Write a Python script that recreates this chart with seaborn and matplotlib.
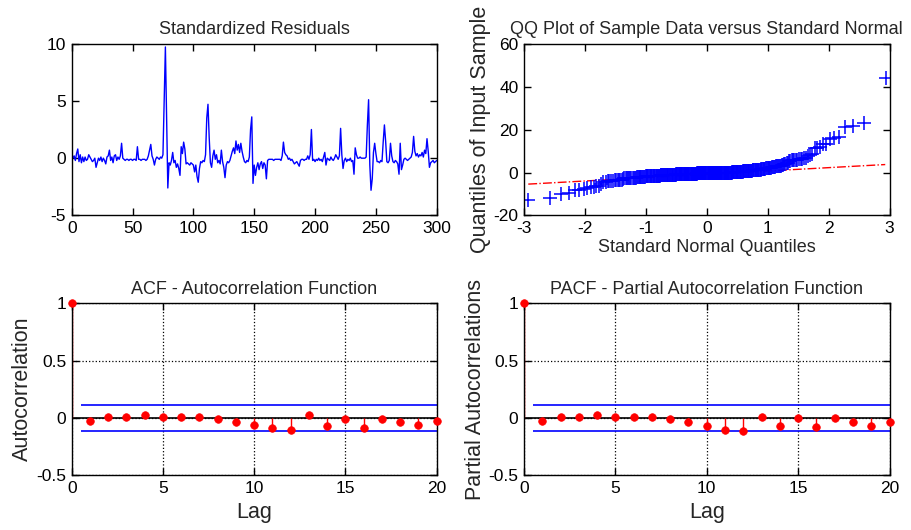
import math
import numpy as np
import pandas as pd
import seaborn as sns
import matplotlib
matplotlib.use("Agg")
import matplotlib.pyplot as plt

residuals = [
    0.0, 0.2, -0.2, 0.4, 0.8, -0.3, 0.3, -0.4, 0.1, -0.3,
    0.1, -0.2, -0.1, 0.3, 0.1, -0.1, -0.3, -0.2, 0.0, -0.8,
    -0.4, 0.0, -0.2, 0.1, -0.3, 0.0, -0.2, -0.5, 0.1, 0.2,
    0.7, -0.2, 0.1, -0.4, 0.2, 0.3, -0.2, 0.1, -0.1, 0.2,
    1.3, 0.0, -0.1, -0.2, -0.1, -0.1, -0.2, -0.1, -0.1, -0.2,
    -0.1, -0.1, -0.2, 1.0, -0.1, -0.1, -0.2, -0.1, -0.1, -0.1,
    -0.2, -0.1, 0.2, 0.7, 1.2, 0.2, -0.1, -0.6, -0.1, 0.1,
    0.0, -0.1, 0.1, 0.0, 0.3, 4.8, 9.7, 3.4, -2.6, -0.4,
    -0.6, -0.2, 0.5, -0.4, -0.2, -0.8, -0.5, -0.9, -1.5, 1.0,
    0.4, 1.4, 0.8, -0.5, -0.4, -0.5, -0.6, -0.4, -0.5, -0.6,
    -1.2, -0.6, -1.6, -2.1, -0.9, -0.3, -0.4, -0.2, -0.3, 0.3,
    3.5, 4.7, 1.8, -0.4, -0.8, 0.2, 0.7, -0.1, 0.3, -0.4,
    -0.2, -0.5, 0.7, -0.3, -0.8, -1.7, -0.6, -0.3, -0.4, -0.2,
    0.2, 0.6, 0.9, 0.4, 1.5, 0.7, 1.2, 0.5, 1.3, 0.6,
    0.1, -0.3, -0.4, -0.2, -0.3, 0.1, 2.5, 3.6, -2.2, -0.6,
    -1.5, -0.8, -0.4, -1.0, -0.5, -0.3, -0.9, -0.4, -0.6, -1.8,
    -0.2, -0.1, -0.1, -0.1, -0.1, -0.2, -0.1, -0.1, -0.1, -0.1,
    -0.1, -0.2, 0.2, 1.4, 0.5, 0.3, 0.2, -0.1, 0.0, -0.2,
    -0.1, -0.3, -0.5, -0.4, -0.3, -0.5, -0.7, -0.2, -0.1, -0.1,
    -0.2, -0.1, -0.1, 0.2, -0.1, 0.3, 2.5, -0.2, -0.1, -0.3,
    -0.1, -0.2, 0.0, -0.2, -0.1, -0.3, 0.1, 0.5, -0.6, 0.0,
    -0.1, -0.2, 0.1, -0.1, -0.2, 0.0, 0.3, 0.1, -0.1, 0.2,
    2.6, 0.3, -0.9, -0.2, 0.0, -0.3, -0.1, -0.2, 0.0, -0.3,
    -0.2, -1.4, 0.9, 0.3, 0.0, 0.0, 0.1, 0.0, 0.0, 0.0,
    0.0, 0.1, 2.9, 5.1, -0.6, -2.8, -1.8, 0.5, 1.3, 0.4,
    -0.3, -0.3, -0.4, -0.2, -0.3, 1.4, 2.9, 1.5, -0.3, -0.4,
    -0.2, 1.3, 0.2, -0.3, -0.4, -0.2, -0.3, -0.5, -1.4, 1.3,
    -1.0, -0.6, -0.1, 0.0, -0.1, -0.2, -0.1, 0.0, 0.1, 0.5,
    1.9, 0.6, 0.2, 0.4, 0.1, 0.3, 0.2, 0.5, 0.1, 0.7,
    0.4, 1.7, 0.6, -0.8, -0.4, -0.3, -0.2, -0.4, -0.3, -0.2,
]

# raw residuals in the QQ panel are the standardized ones times this scale
qq_scale = 4.55
qq_line_x = [-2.93, 2.93]
qq_line_y = [-5.4, 3.7]

lags = list(range(21))
acf = [1.0, -0.03, 0.01, 0.01, 0.02, 0.01, 0.01, 0.01, -0.015, -0.04, -0.06,
       -0.09, -0.105, 0.02, -0.07, -0.015, -0.09, -0.015, -0.04, -0.06, -0.03]
pacf = [1.0, -0.025, 0.01, 0.01, 0.02, 0.01, 0.01, 0.01, -0.015, -0.04, -0.07,
        -0.105, -0.12, 0.01, -0.07, 0.0, -0.08, 0.0, -0.04, -0.07, -0.035]
conf_bound = 0.115


def norm_ppf(p):
    lo, hi = -10.0, 10.0
    for _ in range(80):
        mid = (lo + hi) / 2
        if 0.5 * (1 + math.erf(mid / math.sqrt(2))) < p:
            lo = mid
        else:
            hi = mid
    return (lo + hi) / 2


sns.set_style("ticks")
plt.rcParams['font.family'] = ['Liberation Sans', 'DejaVu Sans']
plt.rcParams['axes.linewidth'] = 1.0
plt.rcParams['axes.unicode_minus'] = False

fig = plt.figure(figsize=(9.11, 5.30), dpi=100)
ax1 = fig.add_axes([0.0787, 0.5934, 0.4007, 0.3245])
ax2 = fig.add_axes([0.5752, 0.5934, 0.4012, 0.3245])
ax3 = fig.add_axes([0.0787, 0.1038, 0.4007, 0.3240])
ax4 = fig.add_axes([0.5752, 0.1038, 0.4012, 0.3240])

TICK = 12.5
TITLE = 13
YLAB = 15.5

def matlab_box(ax):
    for s in ax.spines.values():
        s.set_visible(True)
        s.set_color('black')
        s.set_zorder(5)
    ax.tick_params(direction='in', length=5, width=1, top=True, right=True,
                   labelsize=TICK, colors='black', pad=4)
    ax.set_facecolor('white')

# standardized residuals
df_res = pd.DataFrame({'t': np.arange(1, len(residuals) + 1), 'r': residuals})
sns.lineplot(data=df_res, x='t', y='r', ax=ax1, color=(0, 0, 1), linewidth=1.0)
ax1.set_xlim(0, 300)
ax1.set_ylim(-5, 10)
ax1.set_xticks([0, 50, 100, 150, 200, 250, 300])
ax1.set_yticks([-5, 0, 5, 10])
ax1.set_xlabel('')
ax1.set_ylabel('')
ax1.set_title('Standardized Residuals', fontsize=TITLE, pad=7)
matlab_box(ax1)

# QQ plot
sample = np.sort(np.array(residuals)) * qq_scale
n = len(sample)
theo = np.array([norm_ppf((i - 0.5) / n) for i in range(1, n + 1)])
df_qq = pd.DataFrame({'theo': theo, 'sample': sample})
ax2.plot(qq_line_x, qq_line_y, color='red', linestyle='-.', linewidth=1.0)
sns.scatterplot(data=df_qq, x='theo', y='sample', ax=ax2, marker='+', s=90,
                color=(0, 0, 1), linewidth=1.1, zorder=3)
ax2.set_xlim(-3, 3)
ax2.set_ylim(-20, 60)
ax2.set_xticks([-3, -2, -1, 0, 1, 2, 3])
ax2.set_yticks([-20, 0, 20, 40, 60])
ax2.set_xlabel('Standard Normal Quantiles', fontsize=TITLE, labelpad=2)
ax2.set_ylabel('Quantiles of Input Sample', fontsize=YLAB, labelpad=2)
ax2.set_title('QQ Plot of Sample Data versus Standard Normal', fontsize=TITLE, pad=7)
matlab_box(ax2)

# ACF / PACF
def corr_panel(ax, vals, title, ylabel):
    ax.grid(True, linestyle=':', color='black', linewidth=0.9)
    ax.axhline(0, color='black', linewidth=1.2, zorder=2)
    ax.hlines([conf_bound, -conf_bound], 0.5, 20, colors=(0, 0, 1), linewidth=1.2, zorder=2)
    ax.vlines(lags, 0, vals, colors='red', linewidth=1.0, zorder=3)
    df_c = pd.DataFrame({'lag': lags, 'v': vals})
    sns.scatterplot(data=df_c, x='lag', y='v', ax=ax, color='red', s=30,
                    edgecolor='red', linewidth=0.5, zorder=6, clip_on=False)
    ax.set_xlim(0, 20)
    ax.set_ylim(-0.5, 1)
    ax.set_xticks([0, 5, 10, 15, 20])
    ax.set_yticks([-0.5, 0, 0.5, 1])
    ax.set_yticklabels(['-0.5', '0', '0.5', '1'])
    ax.set_xlabel('Lag', fontsize=YLAB, labelpad=5)
    ax.set_ylabel(ylabel, fontsize=YLAB, labelpad=2)
    ax.set_title(title, fontsize=TITLE, pad=7)
    matlab_box(ax)

corr_panel(ax3, acf, 'ACF - Autocorrelation Function', 'Autocorrelation')
corr_panel(ax4, pacf, 'PACF - Partial Autocorrelation Function', 'Partial Autocorrelations')

fig.savefig('out.png', dpi=100, facecolor='white')
